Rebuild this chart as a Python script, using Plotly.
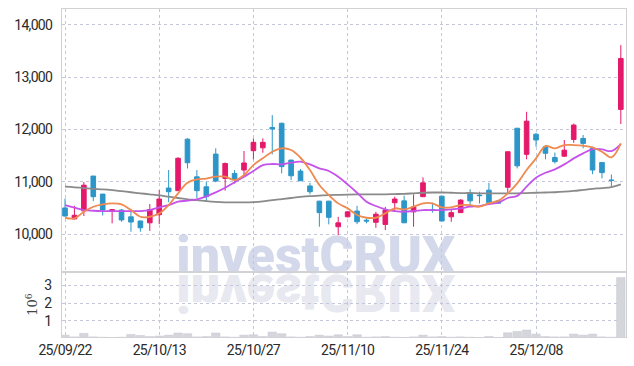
import plotly.graph_objects as go
from plotly.subplots import make_subplots

dates = [
    "25/09/22", "25/09/23", "25/09/24", "25/09/25", "25/09/26", "25/09/29", "25/09/30",
    "25/10/01", "25/10/02", "25/10/10", "25/10/13", "25/10/14", "25/10/15", "25/10/16",
    "25/10/17", "25/10/20", "25/10/21", "25/10/22", "25/10/23", "25/10/24", "25/10/27",
    "25/10/28", "25/10/29", "25/10/30", "25/10/31", "25/11/03", "25/11/04", "25/11/05",
    "25/11/06", "25/11/07", "25/11/10", "25/11/11", "25/11/12", "25/11/13", "25/11/14",
    "25/11/17", "25/11/18", "25/11/19", "25/11/20", "25/11/21", "25/11/24", "25/11/25",
    "25/11/26", "25/11/27", "25/11/28", "25/12/01", "25/12/02", "25/12/03", "25/12/04",
    "25/12/05", "25/12/08", "25/12/09", "25/12/10", "25/12/11", "25/12/12", "25/12/15",
    "25/12/16", "25/12/17", "25/12/18", "25/12/19",
]

opens = [10500, 10290, 10445, 11110, 10765, 10450, 10460, 10330, 10250, 10215,
         10370, 10880, 10830, 11815, 11095, 10905, 11530, 11065, 11160, 11225,
         11595, 11650, 12040, 12120, 11415, 11205, 10920, 10630, 10630, 10140,
         10330, 10440, 10265, 10225, 10185, 10600, 10635, 10425, 10715, 10470,
         10725, 10330, 10410, 10790, 10745, 10840, 10635, 10895, 12025, 11525,
         11910, 11670, 11465, 11490, 11810, 11830, 11640, 11370, 11035, 12385]
highs = [10680, 10540, 10995, 11110, 10765, 10470, 10480, 10485, 10255, 10575,
         10840, 11225, 11470, 11835, 11225, 11000, 11640, 11370, 11225, 11590,
         11830, 11830, 12275, 12130, 11420, 11245, 10980, 10635, 10635, 10330,
         10440, 10540, 10320, 10425, 10520, 10715, 10735, 10760, 11085, 10600,
         10730, 10470, 10665, 10860, 10810, 10980, 10640, 11580, 12030, 12340,
         11935, 11700, 11560, 11800, 12115, 11895, 11670, 11375, 11140, 13615]
lows = [10330, 10280, 10345, 10630, 10355, 10205, 10235, 10045, 10045, 10060,
        10190, 10610, 10825, 11255, 10685, 10630, 10990, 10830, 10970, 11130,
        11430, 11555, 11525, 11160, 11035, 11015, 10760, 10140, 10185, 9980,
        10320, 10190, 10205, 10120, 10075, 10425, 10215, 10140, 10710, 10410,
        10245, 10235, 10405, 10555, 10585, 10585, 10585, 10780, 11255, 11430,
        11670, 11430, 11350, 11475, 11745, 11640, 11145, 11065, 10905, 12105]
closes = [10345, 10360, 10935, 10715, 10460, 10465, 10270, 10230, 10120, 10470,
          10670, 10810, 11450, 11365, 10830, 10715, 11015, 11350, 11050, 11360,
          11755, 11755, 12010, 11290, 11115, 11020, 10810, 10410, 10320, 10215,
          10425, 10235, 10250, 10380, 10460, 10670, 10215, 10520, 10980, 10455,
          10250, 10410, 10650, 10635, 10735, 10600, 10590, 11575, 11305, 12160,
          11800, 11545, 11385, 11605, 12085, 11735, 11225, 11175, 11025, 13360]

ma_short = [10312, 10300, 10427, 10522, 10568, 10587, 10568, 10459, 10331, 10331,
            10396, 10555, 10779, 10982, 11047, 11060, 11097, 11097, 11033, 11129,
            11320, 11449, 11575, 11640, 11608, 11460, 11225, 10938, 10746, 10587,
            10492, 10364, 10312, 10312, 10396, 10492, 10472, 10523, 10587, 10587,
            10510, 10510, 10555, 10555, 10523, 10590, 10640, 10779, 10970, 11225,
            11448, 11684, 11640, 11703, 11703, 11690, 11659, 11575, 11468, 11736]
ma_mid = [10555, 10504, 10459, 10446, 10440, 10440, 10440, 10440, 10440, 10459,
          10510, 10555, 10619, 10638, 10664, 10720, 10798, 10886, 10989, 11097,
          11206, 11320, 11340, 11333, 11365, 11384, 11333, 11257, 11206, 11097,
          10950, 10790, 10619, 10536, 10472, 10440, 10427, 10440, 10459, 10459,
          10459, 10472, 10492, 10523, 10536, 10574, 10600, 10690, 10730, 10906,
          11078, 11173, 11237, 11333, 11448, 11544, 11627, 11620, 11588, 11722]
ma_long = [10906, 10895, 10880, 10865, 10855, 10840, 10820, 10800, 10780, 10760,
           10740, 10715, 10690, 10665, 10650, 10630, 10615, 10607, 10605, 10605,
           10610, 10625, 10650, 10670, 10690, 10710, 10725, 10735, 10745, 10750,
           10755, 10758, 10760, 10760, 10760, 10765, 10770, 10780, 10790, 10795,
           10795, 10790, 10785, 10785, 10780, 10780, 10778, 10778, 10780, 10785,
           10790, 10795, 10800, 10810, 10825, 10845, 10865, 10880, 10900, 10950]

volumes = [200000, 100000, 300000, 100000, 80000, 50000, 80000, 240000, 180000, 120000,
           150000, 200000, 320000, 280000, 100000, 120000, 320000, 100000, 80000, 200000,
           220000, 120000, 370000, 280000, 100000, 80000, 120000, 200000, 150000, 220000,
           120000, 220000, 80000, 100000, 120000, 80000, 60000, 100000, 200000, 100000,
           120000, 80000, 100000, 80000, 60000, 120000, 50000, 330000, 410000, 490000,
           260000, 120000, 100000, 100000, 260000, 200000, 260000, 100000, 80000, 3450000]

tick_dates = ["25/09/22", "25/10/13", "25/10/27", "25/11/10", "25/11/24", "25/12/08"]
price_ticks = [10000, 11000, 12000, 13000, 14000]
price_tick_text = ["10,000", "11,000", "12,000", "13,000", "14,000"]
volume_ticks = [1000000, 2000000, 3000000]
volume_tick_text = ["1", "2", "3"]

RED = "#e5196b"
BLUE = "#2d96c8"
GRID = "#c4c7da"
FRAME = "#d2d2d6"
TICK_FONT = dict(family="Roboto, sans-serif", size=14, color="#2a2a2a")


def tight(label):
    return '<span style="letter-spacing:-0.7px">' + label + '</span>'


fig = make_subplots(rows=2, cols=1, shared_xaxes=True, vertical_spacing=0,
                    row_heights=[0.802, 0.198])

fig.add_trace(go.Candlestick(
    x=dates, open=opens, high=highs, low=lows, close=closes,
    increasing=dict(line=dict(color=RED, width=1), fillcolor=RED),
    decreasing=dict(line=dict(color=BLUE, width=1), fillcolor=BLUE),
    whiskerwidth=0, showlegend=False, hoverinfo="skip"), row=1, col=1)

fig.add_trace(go.Scatter(x=dates, y=ma_long, mode="lines",
                         line=dict(color="#8a8a8a", width=1.8, shape="spline"),
                         showlegend=False, hoverinfo="skip"), row=1, col=1)
fig.add_trace(go.Scatter(x=dates, y=ma_mid, mode="lines",
                         line=dict(color="#c552ea", width=1.8, shape="spline"),
                         showlegend=False, hoverinfo="skip"), row=1, col=1)
fig.add_trace(go.Scatter(x=dates, y=ma_short, mode="lines",
                         line=dict(color="#ef8a50", width=1.8, shape="spline"),
                         showlegend=False, hoverinfo="skip"), row=1, col=1)

fig.add_trace(go.Bar(x=dates, y=volumes, marker=dict(color="#d5d5dc",
                     line=dict(color="#c8c8d0", width=0.5)),
                     width=0.9, showlegend=False, hoverinfo="skip"), row=2, col=1)

xcommon = dict(type="category", range=[-0.32, 59.55], autorange=False, automargin=False,
               showgrid=True, gridcolor=GRID,
               griddash="dot", gridwidth=1, showline=True, linecolor=FRAME, linewidth=1,
               mirror=True, tickvals=tick_dates, ticktext=[tight(t) for t in tick_dates],
               ticks="", tickfont=TICK_FONT, zeroline=False)
fig.update_xaxes(**xcommon)
fig.update_xaxes(showticklabels=False, row=1, col=1)
fig.update_layout(xaxis_rangeslider_visible=False)

fig.update_yaxes(range=[9273, 14306], autorange=False, automargin=False,
                 tickvals=price_ticks, ticktext=[tight(t) for t in price_tick_text],
                 showgrid=True, gridcolor=GRID, griddash="dot", gridwidth=1,
                 showline=True, linecolor=FRAME, linewidth=1, mirror=True,
                 ticks="", ticklabelstandoff=6, tickfont=TICK_FONT, zeroline=False,
                 row=1, col=1)
fig.update_yaxes(range=[94000, 3760000], autorange=False, automargin=False,
                 tickvals=volume_ticks, ticktext=volume_tick_text,
                 showgrid=True, gridcolor=GRID, griddash="dot", gridwidth=1,
                 showline=True, linecolor=FRAME, linewidth=1, mirror=True,
                 ticks="", ticklabelstandoff=6, tickfont=TICK_FONT, zeroline=False,
                 title=dict(text="10<sup>6</sup>", standoff=3,
                            font=dict(family="DejaVu Serif, serif", size=13, color="#444444")),
                 row=2, col=1)

# watermark (drawn beneath the grid) and its mirrored reflection
wm_x0, wm_x1 = 0.25, 0.65
fig.add_shape(type="rect", xref="paper", yref="paper", x0=wm_x0, x1=wm_x1,
              y0=0.205, y1=0.317, line=dict(width=0), fillcolor="rgba(0,0,0,0)",
              layer="below",
              label=dict(text="investCRUX", textposition="middle center",
                         font=dict(family="Roboto, Lato, sans-serif", size=52,
                                   color="#d3d9ea", weight=900)))
fig.add_shape(type="rect", xref="paper", yref="paper", x0=wm_x0, x1=wm_x1,
              y0=0.092, y1=0.204, line=dict(width=0), fillcolor="rgba(0,0,0,0)",
              layer="below",
              label=dict(text="investCRUX", textposition="middle center",
                         font=dict(family="Roboto, Lato, sans-serif", size=52,
                                   color="#e7e8f0", weight=900)))

fig.update_layout(width=634, height=366, margin=dict(l=62, r=8, t=9, b=29, autoexpand=False),
                  paper_bgcolor="white", plot_bgcolor="white", bargap=0.1)

flip_js = """
document.documentElement.style.margin = '0';
document.body.style.margin = '0';
document.body.style.padding = '0';
document.body.style.overflow = 'hidden';
var gd = document.getElementById('{plot_id}');
var found = [];
gd.querySelectorAll('text').forEach(function(t){ if (t.textContent === 'investCRUX') found.push(t); });
if (found.length > 1) {
  var t = found[1];
  var bb = t.getBBox();
  var cy = bb.y + bb.height / 2;
  var old = t.getAttribute('transform') || '';
  t.setAttribute('transform', 'translate(0,' + (2 * cy) + ') scale(1,-1) ' + old);
}
"""

fig.write_html("out.html", post_script=flip_js, config={"displayModeBar": False})
